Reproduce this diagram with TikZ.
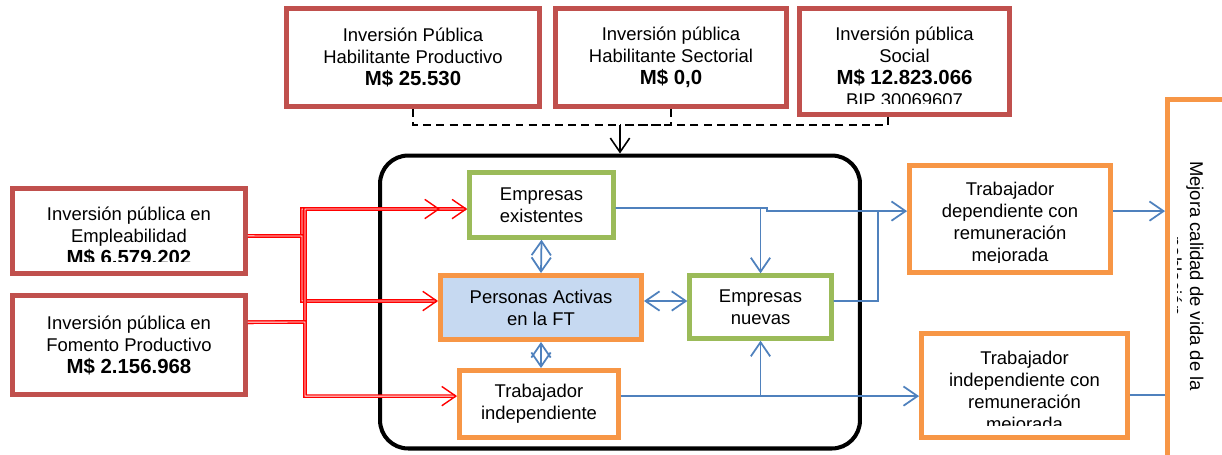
\documentclass[tikz,border=0pt]{standalone}
\usepackage{fontspec}
\setmainfont{Liberation Sans}
\usetikzlibrary{arrows.meta}
\definecolor{boxred}{HTML}{C0504D}
\definecolor{boxorange}{HTML}{F79646}
\definecolor{boxgreen}{HTML}{9BBB59}
\definecolor{flowblue}{HTML}{4F81BD}
\definecolor{ftfill}{HTML}{C6D9F1}
\newcommand{\monto}[1]{{\fontsize{11.6}{12.5}\selectfont\bfseries #1}}

\begin{document}
\begin{tikzpicture}[x=0.02cm,y=-0.02cm,font=\fontsize{10.5}{12.5}\selectfont,
  >={Straight Barb[length=8pt,width=11pt]},
  lbl/.style={align=center,inner sep=0pt},
  redbox/.style={draw=boxred,line width=2.8pt,lbl},
  orangebox/.style={draw=boxorange,line width=2.8pt,lbl},
  greenbox/.style={draw=boxgreen,line width=2.5pt,lbl},
  ftbox/.style={draw=black,line width=2.3pt,rounded corners=16pt},
  redline/.style={draw=red,double=white,double distance=0.5pt,line width=0.8pt,->},
  blueline/.style={draw=flowblue,line width=1pt},
  dashline/.style={draw=black,line width=0.8pt,dash pattern=on 4.5pt off 3pt}]
\useasboundingbox (0,0) rectangle (1222,454);

% marco central
\node[ftbox,minimum width=9.6cm,minimum height=5.86cm] (ft) at (620,302) {};

% inversiones superiores
\node[redbox,minimum width=5.06cm,minimum height=1.96cm] (hprod) at (413,57.5) {Inversión Pública\\Habilitante Productivo\\\monto{M\$ 25.530}};
\node[redbox,minimum width=4.62cm,minimum height=1.96cm] (hsect) at (671,57.5) {Inversión pública\\Habilitante Sectorial\\\monto{M\$ 0,0}};
\begin{scope}
\clip (802,10) rectangle (1007,103);
\node[lbl] at (904.5,67) {Inversión pública\\Social\\\monto{M\$ 12.823.066}\\BIP 30069607};
\end{scope}
\node[redbox,minimum width=4.2cm,minimum height=2.12cm] (social) at (904.5,61.5) {};

% inversiones izquierda
\begin{scope}
\clip (15,190) rectangle (243,261);
\node[lbl] at (129,236.5) {Inversión pública en\\Empleabilidad\\\monto{M\$ 6.579.202}};
\end{scope}
\node[redbox,minimum width=4.66cm,minimum height=1.7cm] (emple) at (129,231) {};
\node[redbox,minimum width=4.66cm,minimum height=1.98cm] (fomento) at (129,345) {Inversión pública en\\Fomento Productivo\\\monto{M\$ 2.156.968}};

% dentro del marco
\node[greenbox,minimum width=2.88cm,minimum height=1.3cm] (existentes) at (541.5,205) {Empresas\\existentes};
\node[orangebox,fill=ftfill,minimum width=4.02cm,minimum height=1.28cm] (activas) at (541,307.5) {Personas Activas\\en la FT};
\node[greenbox,minimum width=2.84cm,minimum height=1.26cm] (nuevas) at (760.5,307) {Empresas\\nuevas};
\node[orangebox,minimum width=3.18cm,minimum height=1.34cm] (indep) at (539,404) {Trabajador\\independiente};

% resultados
\begin{scope}
\clip (912,168) rectangle (1108,262);
\node[lbl] at (1010,224) {Trabajador\\dependiente con\\remuneración\\mejorada};
\end{scope}
\node[orangebox,minimum width=4.02cm,minimum height=2.14cm] (dep) at (1010,219) {};
\begin{scope}
\clip (924,336) rectangle (1125,425);
\node[lbl] at (1024.5,393) {Trabajador\\independiente con\\remuneración\\mejorada};
\end{scope}
\node[orangebox,minimum width=4.12cm,minimum height=2.08cm] (indepr) at (1024.5,385.5) {};
\begin{scope}
\clip (1177,102) rectangle (1222,454);
\node[lbl,rotate=-90] at (1184,276) {Mejora calidad de vida de la\\población};
\end{scope}
\node[orangebox,minimum width=1.17cm,minimum height=7.31cm] (calidad) at (1196.75,282) {};

% lineas punteadas
\coordinate (bus) at (620,125);
\draw[dashline] (hprod.south) |- (bus);
\draw[dashline] (hsect.south) |- (bus);
\draw[dashline] ([xshift=-9.4pt]social.south) |- (bus);
\draw[line width=0.9pt,->] (bus) -- (ft.north);

% flechas rojas
\coordinate (trunkA) at (302,236);
\coordinate (trunkB) at (305,322);
\coordinate (ee-in) at (440,209);
\draw[redline] ([yshift=-2.8pt]emple.east) -- (trunkA) |- ([yshift=-2.3pt]existentes.west);
\draw[redline] ([yshift=-2.8pt]emple.east) -- (trunkA) |- ([yshift=3.7pt]activas.west);
\draw[redline] ([yshift=13pt]fomento.east) -- (trunkB) |- (ee-in);
\draw[redline] ([yshift=13pt]fomento.east) -- (trunkB) |- ([yshift=4.5pt]indep.west);

% flechas azules
\draw[blueline,->] ([yshift=-1.7pt]existentes.east) -- (767,208) -- (767,211) -- ([yshift=4.5pt]dep.west);
\draw[blueline,->] ([yshift=-1.7pt]existentes.east -| nuevas.north) -- (nuevas.north);
\draw[blueline] ([yshift=3.4pt]nuevas.east) -- (878,301) -- (878,211);
\draw[blueline,->] ([yshift=4.5pt]indep.east) -- ([yshift=4.5pt]indep.east -| indepr.west);
\draw[blueline,->] ([yshift=4.5pt]indep.east -| nuevas.south) -- (nuevas.south);
\draw[blueline,<->] (existentes.south) -- (activas.north);
\draw[blueline,<->] ([yshift=3.7pt]activas.east) -- ([yshift=3.7pt]activas.east -| nuevas.west);
\draw[blueline,<->] (activas.south) -- (activas.south |- indep.north);
\draw[blueline,->] ([yshift=4.5pt]dep.east) -- ([yshift=4.5pt]dep.east -| calidad.west);
\draw[blueline] ([yshift=-5.4pt]indepr.east) -- ([yshift=-5.4pt]indepr.east -| calidad.west);

\end{tikzpicture}
\end{document}
